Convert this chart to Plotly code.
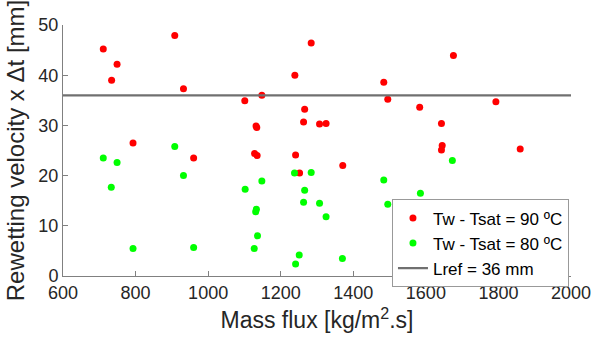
import plotly.graph_objects as go

# Tw - Tsat = 90 ºC
red_x = [711, 749, 734, 908, 932, 1101, 1148, 1132, 1134, 1239, 1284, 1266, 1263, 1307, 1325,
         1484, 1495, 1583, 1643, 1676, 1793, 1645, 1643, 1860, 793, 960, 1128, 1135, 1241, 1252, 1371]
red_y = [45.2, 42.2, 39.0, 47.9, 37.3, 34.9, 36.0, 29.9, 29.6, 40.0, 46.4, 33.2, 30.7, 30.3, 30.4,
         38.6, 35.2, 33.6, 30.4, 43.9, 34.7, 26.0, 25.1, 25.3, 26.5, 23.5, 24.4, 24.0, 24.1, 20.5, 22.0]

# Tw - Tsat = 80 ºC
green_x = [908, 711, 749, 932, 733, 1102, 1131, 1133, 1136, 793, 960, 1127, 1238, 1284, 1148,
           1266, 1263, 1307, 1325, 1251, 1241, 1370, 1484, 1495, 1585, 1673]
green_y = [25.8, 23.5, 22.6, 20.0, 17.7, 17.3, 12.8, 13.3, 8.0, 5.5, 5.7, 5.5, 20.5, 20.6, 18.9,
           17.1, 14.7, 14.5, 11.8, 4.2, 2.4, 3.5, 19.1, 14.3, 16.5, 23.0]

lref_x = [600, 2000]
lref_y = [36, 36]

x_ticks = [600, 800, 1000, 1200, 1400, 1600, 1800, 2000]
y_ticks = [0, 10, 20, 30, 40, 50]

FONT = "Liberation Sans, Arial, sans-serif"
TXT = "#262626"
AX = "#808080"

fig = go.Figure()
fig.add_trace(go.Scatter(x=red_x, y=red_y, mode="markers", name="Tw - Tsat = 90 ºC",
                         marker=dict(color="#FF0000", size=7, line=dict(width=0))))
fig.add_trace(go.Scatter(x=green_x, y=green_y, mode="markers", name="Tw - Tsat = 80 ºC",
                         marker=dict(color="#00FF00", size=7, line=dict(width=0))))
fig.add_trace(go.Scatter(x=lref_x, y=lref_y, mode="lines", name="Lref = 36 mm",
                         line=dict(color="#707070", width=2.2)))

fig.update_layout(
    width=603, height=344,
    margin=dict(l=63, r=20, t=25, b=68),
    paper_bgcolor="white", plot_bgcolor="white",
    font=dict(family=FONT, color=TXT, size=18),
    showlegend=True,
    legend=dict(x=0.996, y=0.305, xanchor="right", yanchor="top",
                bgcolor="white", bordercolor="#999999", borderwidth=1,
                font=dict(size=17, color="#000000"), tracegroupgap=0,
                itemwidth=30),
    xaxis=dict(range=[600, 2000], tickvals=x_ticks, ticks="inside", ticklen=5,
               tickcolor=AX, showline=True, linecolor=AX, linewidth=1,
               ticklabeloverflow="allow",
               showgrid=False, zeroline=False, tickfont=dict(size=18, color=TXT),
               title=dict(text="Mass flux [kg/m<sup>2</sup>.s]", font=dict(size=23, color=TXT),
                          standoff=10)),
    yaxis=dict(range=[0, 50], tickvals=y_ticks, ticks="inside", ticklen=5,
               tickcolor=AX, showline=True, linecolor=AX, linewidth=1,
               ticklabeloverflow="allow",
               showgrid=False, zeroline=False, tickfont=dict(size=18, color=TXT),
               title=dict(text="Rewetting velocity x Δt [mm]", font=dict(size=24, color=TXT),
                          standoff=6)),
)

fig.write_html("out.html")
